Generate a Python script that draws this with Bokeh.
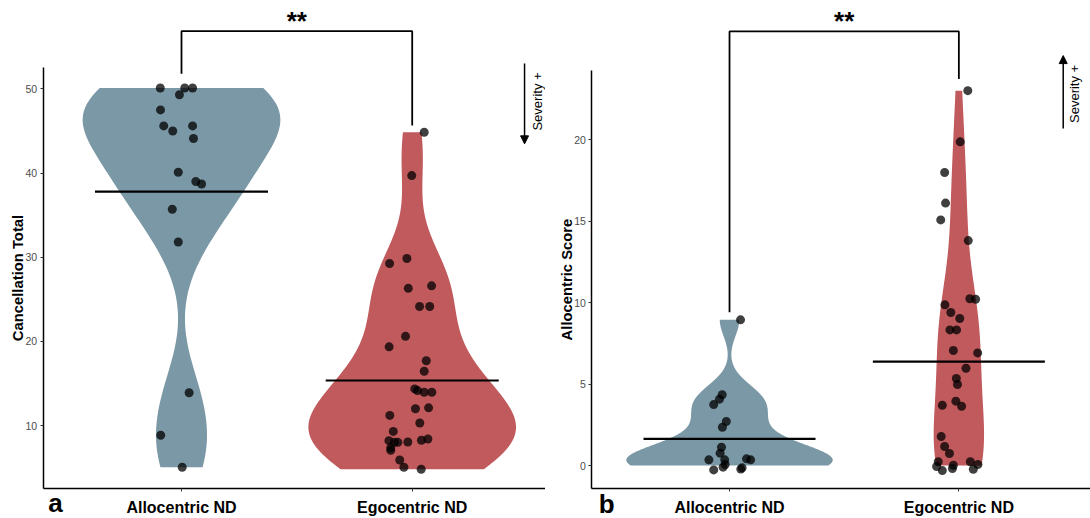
import numpy as np
from bokeh.plotting import figure
from bokeh.models import Range1d, FixedTicker, Label, Arrow, NormalHead
from bokeh.layouts import row
from bokeh.embed import file_html
from bokeh.resources import INLINE

# ---------------- data ----------------
categories = ["Allocentric ND", "Egocentric ND"]

# panel a : Cancellation Total
a_allo_vals = [50.1, 50.1, 50.1, 49.3, 47.5, 45.6, 45.6, 45.0, 44.1, 40.1, 39.0, 38.7,
               35.7, 31.8, 13.9, 8.85, 5.05]
a_allo_jit = [-0.092, 0.014, 0.048, -0.009, -0.091, -0.077, 0.048, -0.038, 0.052, -0.014,
              0.062, 0.087, -0.040, -0.014, 0.033, -0.090, 0.003]
a_ego_vals = [44.85, 39.7, 29.25, 29.85, 26.3, 26.6, 24.15, 24.15, 20.6, 19.35, 17.7, 16.45,
              14.35, 14.15, 13.95, 13.95, 12.0, 12.1, 11.2, 10.3, 9.3, 8.2, 8.0, 8.0, 8.05,
              8.25, 8.4, 7.35, 7.05, 5.9, 5.05, 4.8]
a_ego_jit = [0.052, -0.002, -0.098, -0.023, -0.017, 0.084, 0.032, 0.076, -0.029, -0.100,
             0.061, 0.052, 0.011, 0.023, 0.052, 0.085, 0.014, 0.071, -0.097, 0.033, -0.082,
             -0.101, -0.077, -0.062, -0.019, 0.040, 0.068, -0.093, -0.093, -0.054, -0.036, 0.039]
a_means = [37.8, 15.35]
a_ticks = [10, 20, 30, 40, 50]

# panel b : Allocentric Score
b_allo_vals = [8.94, 4.34, 4.07, 3.74, 2.70, 2.35, 1.12, 0.76, 0.35, 0.35, 0.06, -0.10,
               0.41, 0.35, -0.14, -0.22, -0.27]
b_allo_jit = [0.048, -0.032, -0.044, -0.069, -0.014, -0.031, -0.035, -0.041, -0.090, -0.021,
              -0.019, -0.028, 0.074, 0.092, 0.055, 0.049, -0.069]
b_ego_vals = [23.0, 19.86, 17.98, 16.1, 15.07, 13.8, 10.23, 10.2, 9.86, 9.39, 9.02, 8.32,
              8.32, 7.06, 6.91, 5.97, 5.34, 4.97, 3.70, 3.95, 3.64, 1.78, 1.17, 0.74, 0.23,
              -0.06, -0.31, 0.02, -0.18, 0.23, 0.06, -0.23]
b_ego_jit = [0.039, 0.006, -0.062, -0.058, -0.079, 0.041, 0.048, 0.073, -0.061, -0.035,
             0.004, -0.039, -0.010, -0.024, 0.082, 0.031, -0.011, -0.006, -0.072, -0.013,
             0.012, -0.077, -0.062, -0.041, -0.090, -0.097, -0.072, -0.024, -0.028, 0.050,
             0.083, 0.063]
b_means = [1.64, 6.38]
b_ticks = [0, 5, 10, 15, 20]

# ---------------- style ----------------
FONT = "Liberation Sans"
COLORS = ["#7b98a6", "#c05a5d"]


def nrd0(x):
    x = np.asarray(x, float)
    sd = x.std(ddof=1)
    q75, q25 = np.percentile(x, [75, 25])
    lo = min(sd, (q75 - q25) / 1.34)
    return 0.9 * lo * len(x) ** -0.2


def density(x, lo_clip=None):
    x = np.asarray(x, float)
    if lo_clip is not None:
        x = np.clip(x, lo_clip, None)
    bw = nrd0(x)
    grid = np.linspace(x.min(), x.max(), 512)
    d = np.exp(-0.5 * ((grid[:, None] - x[None, :]) / bw) ** 2).sum(1) / (len(x) * bw * np.sqrt(2 * np.pi))
    return grid, d


def label(p, x, y, text, size, bold=False, angle=0.0, align="center", baseline="middle"):
    p.add_layout(Label(x=x, y=y, text=text, angle=angle, text_align=align,
                       text_baseline=baseline, text_font=FONT, text_color="black",
                       text_font_style="bold" if bold else "normal",
                       text_font_size=size))


def panel(x_rng, x_bounds, y_rng, y_bounds, ticks, groups, means, lo_clip):
    p = figure(width=545, height=518, x_range=Range1d(*x_rng), y_range=Range1d(*y_rng),
               output_backend="svg", toolbar_location=None,
               min_border_left=0, min_border_right=0, min_border_top=0, min_border_bottom=0)
    p.outline_line_color = None
    p.grid.visible = False
    p.background_fill_color = "white"
    p.border_fill_color = "white"

    dens = [density(v, lo_clip) for v, _ in groups]
    dmax = max(d.max() for _, d in dens)
    for i, (grid, d) in enumerate(dens):
        c = i + 1
        hw = 0.45 * d / dmax
        xs = np.concatenate([c + hw, (c - hw)[::-1]])
        ys = np.concatenate([grid, grid[::-1]])
        p.patch(xs, ys, fill_color=COLORS[i], line_color=None)
    for i, (vals, jit) in enumerate(groups):
        c = i + 1
        p.scatter(x=[c + j for j in jit], y=vals, size=9, fill_color="black",
                  line_color=None, fill_alpha=0.75)
    p.segment(x0=[c - 0.375 for c in (1, 2)], x1=[c + 0.375 for c in (1, 2)],
              y0=means, y1=means, line_color="black", line_width=2.2)

    ax = p.xaxis[0]
    ax.fixed_location = y_bounds[0]
    ax.bounds = x_bounds
    ax.ticker = FixedTicker(ticks=[1, 2])
    ax.major_label_overrides = {1: categories[0], 2: categories[1]}
    ax.major_label_text_font = FONT
    ax.major_label_text_font_style = "bold"
    ax.major_label_text_font_size = "16px"
    ax.major_label_text_color = "black"
    ax.major_label_standoff = 7
    ay = p.yaxis[0]
    ay.fixed_location = x_bounds[0]
    ay.bounds = y_bounds
    ay.ticker = FixedTicker(ticks=ticks)
    ay.major_label_text_font = FONT
    ay.major_label_text_font_size = "10.5px"
    ay.major_label_text_color = "#4d4d4d"
    ay.major_label_standoff = 3
    for a in (ax, ay):
        a.axis_line_color = "black"
        a.axis_line_width = 1.5
        a.major_tick_in = 0
        a.major_tick_out = 3
        a.major_tick_line_color = "#333333"
        a.minor_tick_line_color = None
    return p


# ---------------- panel a ----------------
pa = panel((0.2154, 2.5778), (0.4, 2.6), (-1.045, 60.5), (2.48, 52.5), a_ticks,
           [(a_allo_vals, a_allo_jit), (a_ego_vals, a_ego_jit)], a_means, None)
pa.line(x=[1, 1, 2, 2], y=[51.8, 56.85, 56.85, 45.65], line_color="black", line_width=1.8)
label(pa, 1.5, 58.1, "**", "26px", bold=True, baseline="alphabetic")
pa.add_layout(Arrow(end=NormalHead(size=8, fill_color="black", line_color="black"),
                    x_start=2.487, y_start=53.0, x_end=2.487, y_end=43.47,
                    line_color="black", line_width=1.5))
label(pa, 2.543, 48.5, "Severity +", "13px", angle=np.pi / 2)
label(pa, 0.291, 27.53, "Cancellation Total", "14.8px", bold=True, angle=np.pi / 2)
label(pa, 0.454, 0.74, "a", "26px", bold=True, baseline="middle")

# ---------------- panel b ----------------
pb = panel((0.1976, 2.574), (0.4, 2.6), (-3.25, 28.53), (-1.43, 24.23), b_ticks,
           [(b_allo_vals, b_allo_jit), (b_ego_vals, b_ego_jit)], b_means, 0.0)
pb.line(x=[1, 1, 2, 2], y=[9.4, 26.63, 26.63, 23.72], line_color="black", line_width=1.8)
label(pb, 1.5, 27.25, "**", "26px", bold=True, baseline="alphabetic")
pb.add_layout(Arrow(end=NormalHead(size=8, fill_color="black", line_color="black"),
                    x_start=2.455, y_start=20.67, x_end=2.455, y_end=25.15,
                    line_color="black", line_width=1.5))
label(pb, 2.506, 22.8, "Severity +", "13px", angle=np.pi / 2)
label(pb, 0.2935, 11.41, "Allocentric Score", "14.8px", bold=True, angle=np.pi / 2)
label(pb, 0.464, -2.33, "b", "26px", bold=True, baseline="middle")

layout = row(pa, pb, spacing=0)
open("out.html", "w").write(file_html(layout, INLINE))
